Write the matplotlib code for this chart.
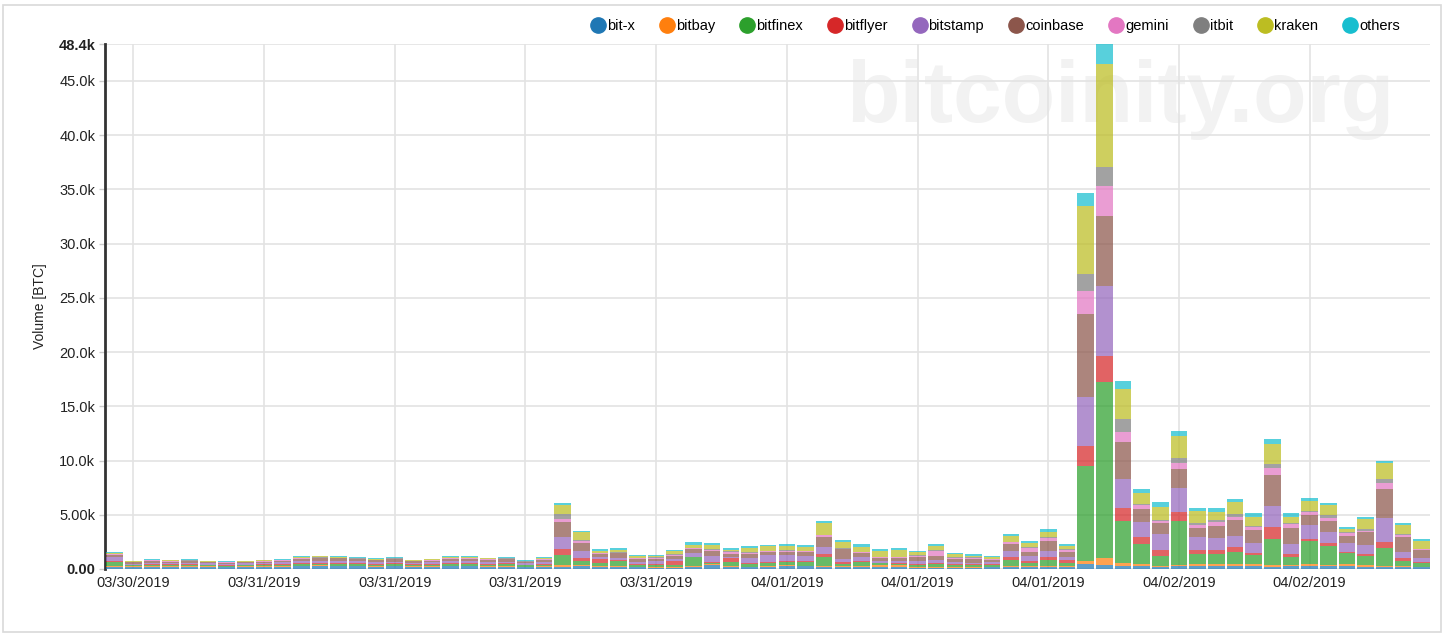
import matplotlib
matplotlib.use('Agg')
import matplotlib.pyplot as plt
from matplotlib.lines import Line2D
from matplotlib.patches import Rectangle
import numpy as np

plt.rcParams['font.family'] = ['Liberation Sans', 'DejaVu Sans']

# DATA (BTC volume per exchange, one value per bar)
exchanges = ['bit-x', 'bitbay', 'bitfinex', 'bitflyer', 'bitstamp',
             'coinbase', 'gemini', 'itbit', 'kraken', 'others']
colors = ['#1f77b4', '#ff7f0e', '#2ca02c', '#d62728', '#9467bd',
          '#8c564b', '#e377c2', '#7f7f7f', '#bcbd22', '#17becf']

bitx = [230, 200, 220, 210, 220, 200, 190, 200, 210, 230, 260, 270, 260, 250, 230,
        240, 210, 220, 240, 240, 220, 230, 190, 220, 210, 250, 180, 180, 150, 120,
        120, 180, 340, 180, 150, 180, 280, 250, 180, 200, 180, 180, 180, 120, 120,
        120, 110, 160, 180, 180, 190, 180, 490, 370, 280, 280, 180, 250, 280, 280,
        310, 310, 210, 250, 310, 250, 250, 210, 210, 190, 150]
bitbay = [60, 40, 50, 40, 40, 40, 30, 40, 40, 50, 60, 60, 60, 50, 50,
          60, 40, 50, 60, 60, 50, 50, 40, 50, 160, 90, 80, 80, 80, 60,
          60, 130, 100, 60, 60, 100, 60, 60, 130, 100, 80, 150, 150, 80, 60,
          60, 60, 50, 60, 60, 60, 60, 250, 670, 240, 150, 100, 120, 180, 210,
          120, 120, 130, 120, 150, 120, 210, 130, 100, 90, 60]
bitfinex = [330, 90, 110, 100, 110, 90, 90, 100, 100, 110, 140, 150, 140, 130, 120,
            130, 110, 120, 140, 150, 130, 150, 100, 140, 890, 400, 260, 490, 150, 150,
            200, 770, 120, 430, 280, 270, 340, 300, 770, 180, 370, 180, 150, 200, 250,
            200, 180, 150, 590, 340, 590, 280, 8740, 16220, 3880, 1880, 920, 4060, 920, 890,
            1140, 830, 2400, 730, 2090, 1750, 990, 860, 1600, 460, 310]
bitflyer = [90, 60, 80, 80, 90, 70, 60, 60, 70, 80, 100, 100, 110, 100, 90,
            90, 80, 80, 90, 90, 80, 80, 70, 90, 620, 300, 370, 80, 80, 100,
            330, 60, 80, 310, 90, 90, 60, 90, 300, 150, 100, 60, 60, 80, 100,
            100, 80, 100, 240, 180, 300, 330, 1820, 2340, 1230, 620, 530, 860, 350, 370,
            490, 220, 1110, 310, 220, 280, 120, 150, 580, 250, 160]
bitstamp = [360, 100, 130, 120, 120, 110, 100, 110, 120, 130, 190, 200, 190, 170, 140,
            160, 110, 130, 180, 190, 150, 160, 110, 140, 1070, 620, 230, 180, 200, 300,
            240, 310, 580, 150, 460, 610, 560, 460, 680, 330, 400, 210, 200, 250, 320,
            180, 150, 140, 550, 430, 550, 280, 4600, 6500, 2650, 1410, 1470, 2210, 1200, 1080,
            960, 890, 1940, 900, 1260, 980, 800, 870, 2190, 580, 360]
coinbase = [180, 120, 160, 140, 150, 130, 120, 130, 140, 150, 200, 220, 210, 200, 170,
            200, 150, 170, 220, 230, 210, 220, 150, 220, 1420, 770, 250, 430, 250, 200,
            280, 370, 460, 220, 370, 310, 310, 390, 930, 850, 300, 250, 280, 400, 390,
            280, 380, 240, 680, 340, 930, 460, 7600, 6400, 3420, 1230, 1020, 1760, 880, 1140,
            1470, 1230, 2910, 1500, 980, 1080, 710, 1160, 2730, 1360, 700]
gemini = [90, 30, 40, 30, 40, 30, 30, 30, 40, 40, 50, 50, 50, 50, 40,
          50, 40, 40, 50, 50, 40, 50, 30, 40, 250, 150, 60, 60, 60, 80,
          80, 80, 80, 250, 60, 80, 60, 80, 150, 60, 120, 60, 60, 80, 430,
          80, 80, 60, 170, 370, 250, 120, 2160, 2850, 970, 310, 230, 520, 220, 370,
          310, 250, 590, 310, 250, 250, 240, 160, 530, 210, 60]
itbit = [40, 20, 30, 30, 30, 20, 20, 20, 30, 30, 40, 40, 40, 40, 30,
         40, 30, 30, 40, 40, 30, 30, 30, 40, 460, 100, 40, 40, 40, 60,
         60, 50, 40, 60, 60, 60, 60, 60, 40, 40, 50, 40, 40, 40, 80,
         50, 50, 40, 40, 150, 50, 140, 1540, 1750, 1130, 100, 100, 490, 190, 180,
         250, 150, 400, 100, 90, 270, 60, 180, 400, 120, 60]
kraken = [80, 40, 50, 40, 50, 40, 40, 40, 40, 50, 70, 80, 80, 60, 60,
          80, 50, 60, 90, 90, 80, 80, 40, 80, 820, 740, 200, 220, 180, 150,
          250, 300, 400, 120, 430, 400, 400, 360, 1080, 550, 460, 570, 630, 300, 370,
          340, 150, 180, 500, 310, 490, 250, 6300, 9500, 2790, 1030, 1200, 2010, 1130, 740,
          1130, 830, 1850, 610, 900, 900, 340, 900, 1410, 800, 730]
others = [80, 40, 50, 40, 40, 40, 30, 40, 40, 50, 60, 60, 60, 60, 50,
          60, 40, 50, 60, 60, 50, 60, 40, 60, 160, 120, 150, 180, 100, 70,
          130, 240, 200, 160, 130, 120, 180, 160, 200, 220, 250, 150, 160, 110, 190,
          100, 110, 80, 220, 190, 240, 210, 1180, 1800, 760, 400, 430, 460, 310, 340,
          310, 370, 460, 310, 330, 240, 180, 180, 250, 160, 130]

series = [bitx, bitbay, bitfinex, bitflyer, bitstamp,
          coinbase, gemini, itbit, kraken, others]

tick_idx = [1, 8, 15, 22, 29, 36, 43, 50, 57, 64]
tick_labels = ['03/30/2019', '03/31/2019', '03/31/2019', '03/31/2019', '03/31/2019',
               '04/01/2019', '04/01/2019', '04/01/2019', '04/02/2019', '04/02/2019']
y_ticks = [0, 5000, 10000, 15000, 20000, 25000, 30000, 35000, 40000, 45000, 48400]
y_labels = ['0.00', '5.00k', '10.0k', '15.0k', '20.0k', '25.0k', '30.0k',
            '35.0k', '40.0k', '45.0k', '48.4k']

# FIGURE
fig = plt.figure(figsize=(14.48, 6.38), dpi=100)
fig.patches.append(Rectangle((3 / 1448, 6 / 638), 1438 / 1448, 627 / 638,
                             transform=fig.transFigure, fill=False,
                             edgecolor='#d9d9d9', linewidth=1.2))

ax = fig.add_axes([105 / 1448, 1 - 569 / 638, 1325 / 1448, 525 / 638])

# watermark, behind the bars
ax.text(1120 / 1448, 1 - 100 / 638, 'bitcoinity.org', fontsize=63,
        fontweight='bold', color='#f2f2f2', ha='center', va='center',
        transform=fig.transFigure, zorder=0.1, clip_on=False)

x = np.arange(len(bitx))
bottom = np.zeros(len(x))
for name, col, vals in zip(exchanges, colors, series):
    vals = np.array(vals, dtype=float)
    ax.bar(x, vals, width=0.89, bottom=bottom, color=col, alpha=0.72,
           linewidth=0, zorder=3)
    bottom += vals

ax.set_xlim(-0.52, 70.45)
ax.set_ylim(0, 48400)

ax.set_yticks(y_ticks)
ax.set_yticklabels(y_labels)
ax.set_xticks(tick_idx)
ax.set_xticklabels(tick_labels)
ax.tick_params(axis='y', length=4, width=1, color='#cccccc', pad=3,
               labelsize=10.5, labelcolor='#222222')
ax.tick_params(axis='x', length=0, pad=5, labelsize=10.5, labelcolor='#222222')
for lab in (ax.get_yticklabels()[0], ax.get_yticklabels()[-1]):
    lab.set_fontweight('bold')

ax.grid(True, color='#e3e3e3', linewidth=1.2, zorder=0)
ax.set_axisbelow(True)
for side in ['top', 'right', 'bottom']:
    ax.spines[side].set_visible(False)
ax.spines['left'].set_color('#333333')
ax.spines['left'].set_linewidth(2)

ax.set_ylabel('Volume [BTC]', fontsize=10, color='#222222', labelpad=8)

handles = [Line2D([], [], marker='o', linestyle='', markersize=11, color=c)
           for c in colors]
fig.legend(handles, exchanges, loc='center right', ncol=10, frameon=False,
           bbox_to_anchor=(1413 / 1448, 1 - 26 / 638), fontsize=10.5,
           handletextpad=0.0, columnspacing=1.62, handlelength=1.2)

plt.savefig('out.png', dpi=100)
plt.close()
